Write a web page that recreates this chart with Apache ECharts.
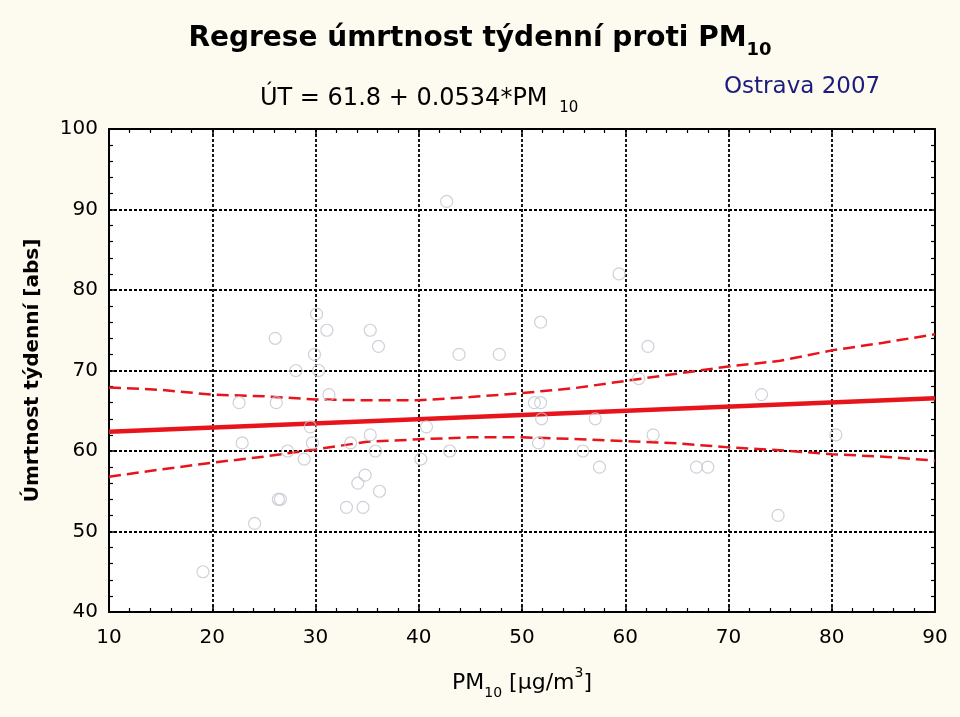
<!DOCTYPE html>
<html><head><meta charset="utf-8">
<script src="https://cdn.jsdelivr.net/npm/echarts@6/dist/echarts.min.js"></script>
<style>html,body{margin:0;padding:0;background:#fdfaf0;}#c{width:960px;height:717px;}</style>
</head><body><div id="c"></div>
<script>
// Scatter observations: PM10 (x) and weekly mortality (y)
const pmValues = [42.7,30.1,26.1,31.1,35.3,36.1,29.9,43.9,47.8,51.8,28.1,30.3,59.4,62.2,31.3,22.6,26.2,51.2,51.8,29.5,40.75,51.9,22.9,29.7,33.4,35.3,51.6,27.3,35.8,43.0,28.9,40.2,34.8,34.1,36.2,26.4,26.6,33.0,34.6,24.1,19.1,57.1,61.3,73.2,62.7,80.4,55.9,57.5,66.9,68.0,74.8];
const mortValues = [91,77,74,75,75,73,72,72,72,76,70,70,82,73,67,66,66,66,66,63,63,64,61,61,61,62,61,60,60,60,59,59,57,56,55,54,54,53,53,51,45,64,69,67,62,62,60,58,58,58,52];
// Regression line endpoints
const fitX = [10, 90];
const fitY = [62.4, 66.55];
// Confidence band
const bandX = [10,15,20,25,30,35,40,45,50,55,60,65,70,75,80,85,90];
const bandUpper = [67.9,67.6,67.0,66.8,66.4,66.3,66.3,66.7,67.2,67.8,68.7,69.6,70.5,71.2,72.5,73.45,74.5];
const bandLower = [56.8,57.7,58.55,59.3,60.2,61.15,61.45,61.7,61.7,61.5,61.24,60.95,60.45,60.1,59.6,59.3,58.8];
// Axis ticks
const xTicks = [10,20,30,40,50,60,70,80,90];
const yTicks = [40,50,60,70,80,90,100];

const FONT = 'DejaVu Sans';
const zip = (a,b) => a.map((v,i)=>[v,b[i]]);
const chart = echarts.init(document.getElementById('c'));
const red = '#e8141c';
const axisCommon = {
  min: 10, max: 90, interval: 10,
  axisLine: {show: true, onZero: false, lineStyle: {color: '#000', width: 2}},
  axisTick: {show: true, inside: true, length: 6, lineStyle: {color: '#000', width: 1.5}},
  minorTick: {show: true, splitNumber: 5, length: 4, lineStyle: {color: '#000', width: 1.2}},
};
chart.setOption({
  backgroundColor: '#fdfaf0',
  animation: false,
  title: [
    {text: '{a|Regrese úmrtnost týdenní proti PM}{s|10}', left: 'center', top: 14,
     textStyle: {rich: {a: {fontFamily: FONT, fontWeight: 'bold', fontSize: 28, color: '#000', lineHeight: 40},
                        s: {fontFamily: FONT, fontWeight: 'bold', fontSize: 18, color: '#000', verticalAlign: 'bottom', lineHeight: 40}}}},
    {text: '{a|ÚT = 61.8 + 0.0534*PM }{s|10}', left: 255, top: 77,
     textStyle: {rich: {a: {fontFamily: FONT, fontWeight: 'normal', fontSize: 24, color: '#000', lineHeight: 32},
                        s: {fontFamily: FONT, fontWeight: 'normal', fontSize: 15, color: '#000', verticalAlign: 'bottom', lineHeight: 34, padding: [0, 0, 0, 4]}}}},
    {text: 'Ostrava 2007', left: 719, top: 71,
     textStyle: {fontFamily: FONT, fontSize: 23, fontWeight: 'normal', color: '#1c1c7c'}}
  ],
  grid: {left: 109, right: 25, top: 129, bottom: 105, show: true, backgroundColor: '#fff', borderWidth: 0},
  xAxis: [
    Object.assign({}, axisCommon, {type: 'value', position: 'bottom',
      name: '{a|PM}{s|10}{a| [μg/m}{p|3}{a|]}', nameLocation: 'middle', nameGap: 54,
      nameTextStyle: {rich: {a: {fontFamily: FONT, fontSize: 22, color: '#000', lineHeight: 32},
                             s: {fontFamily: FONT, fontSize: 14, color: '#000', verticalAlign: 'bottom', lineHeight: 34},
                             p: {fontFamily: FONT, fontSize: 14, color: '#000', verticalAlign: 'top', lineHeight: 30}}},
      axisLabel: {fontFamily: FONT, fontSize: 20, color: '#000', margin: 16, formatter: v => xTicks.includes(v) ? String(v) : ''},
      splitLine: {show: true, lineStyle: {color: '#000', type: [3, 2], width: 1.8}}}),
    Object.assign({}, axisCommon, {type: 'value', position: 'top',
      axisLabel: {show: false}, splitLine: {show: false}})
  ],
  yAxis: [
    Object.assign({}, axisCommon, {type: 'value', min: 40, max: 100, interval: 10, position: 'left',
      name: 'Úmrtnost týdenní [abs]', nameLocation: 'middle', nameGap: 66, nameRotate: 90,
      nameTextStyle: {fontFamily: FONT, fontSize: 20, fontWeight: 'bold', color: '#000'},
      axisLabel: {fontFamily: FONT, fontSize: 20, color: '#000', margin: 11, formatter: v => yTicks.includes(v) ? String(v) : ''},
      splitLine: {show: true, lineStyle: {color: '#000', type: [3, 2], width: 1.8}}}),
    Object.assign({}, axisCommon, {type: 'value', min: 40, max: 100, interval: 10, position: 'right',
      axisLabel: {show: false}, splitLine: {show: false}})
  ],
  series: [
    {type: 'line', data: zip(bandX, bandUpper), symbol: 'none', z: 3,
     lineStyle: {color: red, width: 2.5, type: [12, 6]}},
    {type: 'line', data: zip(bandX, bandLower), symbol: 'none', z: 3,
     lineStyle: {color: red, width: 2.5, type: [12, 6]}},
    {type: 'line', data: zip(fitX, fitY), symbol: 'none', z: 4,
     lineStyle: {color: red, width: 4.5}},
    {type: 'scatter', data: zip(pmValues, mortValues), symbol: 'circle', symbolSize: 12, z: 5,
     itemStyle: {color: 'rgba(255,255,255,0)', borderColor: '#c4c6cf', borderWidth: 1.2}}
  ]
});
</script></body></html>
